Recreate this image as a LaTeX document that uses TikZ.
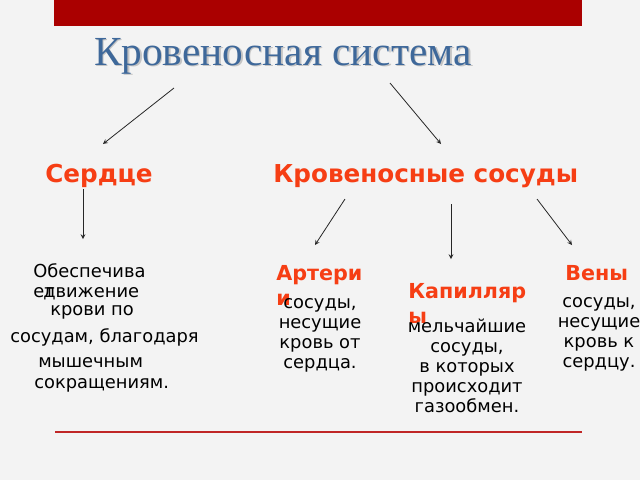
\documentclass[tikz,border=0pt]{standalone}
\usepackage{fontspec}
\setmainfont{DejaVu Sans}
\newfontfamily\titlefont{Liberation Serif}
\usetikzlibrary{positioning}

\definecolor{barred}{RGB}{170,0,0}
\definecolor{linered}{RGB}{192,38,38}
\definecolor{headred}{RGB}{246,62,20}
\definecolor{titleblue}{RGB}{62,104,154}
\definecolor{paper}{RGB}{243,243,243}

\begin{document}
\begin{tikzpicture}[x=0.75pt, y=-0.75pt,
title_text/.style={font=\titlefont\fontsize{31}{36}\selectfont, text=titleblue, inner sep=0pt, anchor=base},
main_head/.style={font=\fontsize{18.5}{23}\selectfont\bfseries, text=headred, inner sep=0pt, anchor=base west},
sub_head/.style={font=\fontsize{15.5}{18.75}\selectfont\bfseries, text=headred, inner sep=0pt, anchor=north west, align=left},
body_text/.style={font=\fontsize{13.4}{15}\selectfont, inner sep=0pt, anchor=north, align=center},
out_arrow/.style={->, >=stealth, semithick, draw=black!85}
]

\fill[paper] (0,0) rectangle (640,480);
\useasboundingbox (0,0) rectangle (640,480);

% bar and rule
\fill[barred] (54,0) rectangle (582,26);
\draw[linered, line width=1.5pt] (55,432) -- (582,432);

% title
\node[title_text, text=black!35, opacity=0.6](title_shadow) at (284.5,66.5) {Кровеносная система};
\node[title_text](title) at (283,65) {Кровеносная система};

\node[main_head](heart) at (45,182) {Сердце};
\node[main_head](vessels) at (273,182) {Кровеносные сосуды};

% heart text
\node[body_text, anchor=north west, align=left](heart_one) at (33,263) {\strut Обеспечива\\ет};
\node[body_text, anchor=north west, align=left](heart_two) at (10,283) {\strut\hspace*{24.75pt}движение\\[-1.5pt]
\hspace*{30pt}крови по\\[5.25pt]
сосудам, благодаря\\[3.75pt]
\hspace*{21pt}мышечным\\[0.75pt]
\hspace*{18pt}сокращениям.};

\node[sub_head](arteries) at (276,262.5) {\strut Артери\\и};
\node[body_text](arteries_text) at (320,294) {\strut сосуды,\\несущие\\кровь от\\сердца.};

\node[sub_head](capillaries) at (408,280.5) {\strut Капилляр\\ы};
\node[body_text](capillaries_text) at (467,318) {\strut мельчайшие\\сосуды,\\в которых\\происходит\\газообмен.};

\node[sub_head](veins) at (565,262.5) {\strut Вены};
\node[body_text](veins_text) at (599,293) {\strut сосуды,\\несущие\\кровь к\\сердцу.};

% arrow ends
\coordinate (title_l) at (174,88);
\coordinate (heart_in) at (103,144);
\coordinate (title_r) at (390,83);
\coordinate (vessels_in) at (441,144);
\coordinate (heart_out) at (83,189);
\coordinate (heart_text_in) at (83,239);
\coordinate (vessels_a) at (345,199);
\coordinate (arteries_in) at (315,245);
\coordinate (vessels_c) at (451,204);
\coordinate (capillaries_in) at (451,259);
\coordinate (vessels_v) at (537,199);
\coordinate (veins_in) at (572,245);

\draw[out_arrow](title_l) to [] (heart_in);
\draw[out_arrow](title_r) to [] (vessels_in);
\draw[out_arrow](heart_out) to [] (heart_text_in);
\draw[out_arrow](vessels_a) to [] (arteries_in);
\draw[out_arrow](vessels_c) to [] (capillaries_in);
\draw[out_arrow](vessels_v) to [] (veins_in);

\end{tikzpicture}
\end{document}
